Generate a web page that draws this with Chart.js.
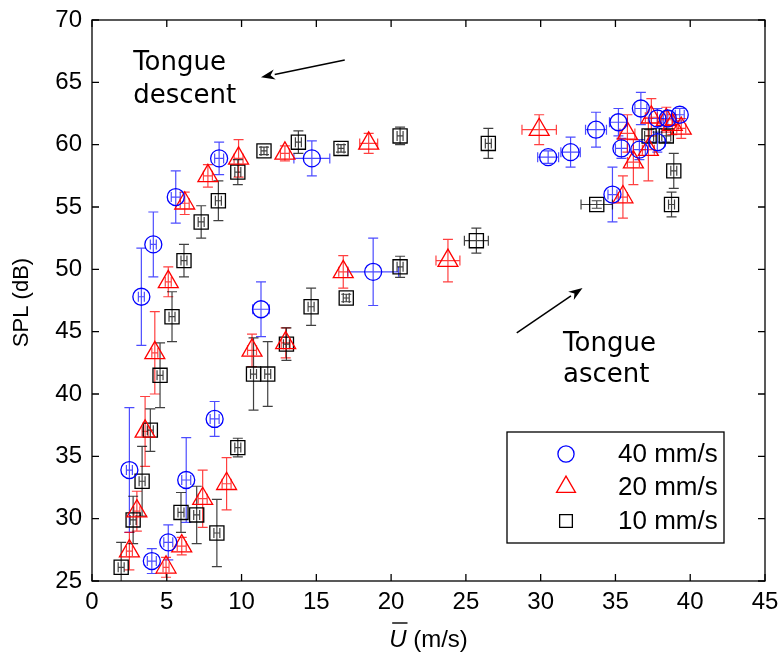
<!DOCTYPE html>
<html>
<head>
<meta charset="utf-8">
<script src="https://cdn.jsdelivr.net/npm/chart.js@4.4.0/dist/chart.umd.min.js"></script>
<style>
  html, body { margin: 0; padding: 0; background: #fff; }
  #wrap { width: 780px; height: 658px; }
</style>
</head>
<body>
<div id="wrap"><canvas id="chart" width="780" height="658"></canvas></div>
<script>
// --- data ---
// 40 mm/s (blue circles)
const u40      = [3.3, 4.1, 5.6, 8.5, 14.7, 30.5, 32.0, 33.7, 35.2, 36.7, 35.4, 36.6, 37.8, 37.8, 38.5, 39.3, 34.8, 11.3, 18.8, 8.2, 2.5, 6.3, 5.1, 4.0];
const spl40    = [47.8, 52.0, 55.8, 58.9, 58.9, 59.0, 59.4, 61.2, 61.8, 62.9, 59.7, 59.6, 60.2, 62.1, 62.1, 62.4, 56.0, 46.8, 49.8, 38.0, 33.9, 33.1, 28.1, 26.6];
const uErr40   = [0.2, 0.2, 0.3, 0.3, 1.2, 0.7, 0.65, 0.7, 0.6, 0.4, 0.4, 0.4, 0.5, 0.4, 0.4, 0.3, 0.3, 0.55, 1.7, 0.3, 0.2, 0.3, 0.3, 0.3];
const splErr40 = [3.9, 2.6, 2.1, 1.3, 1.4, 0.5, 1.2, 1.4, 1.1, 1.3, 0.8, 0.8, 0.8, 0.8, 0.6, 0.5, 2.2, 2.2, 2.7, 1.4, 5.0, 3.4, 1.4, 1.0];

// 20 mm/s (red triangles)
const u20      = [4.2, 5.1, 6.2, 7.75, 9.8, 12.9, 18.5, 29.9, 35.8, 36.2, 37.2, 37.4, 38.4, 38.8, 39.4, 35.5, 23.8, 16.8, 10.7, 12.95, 3.55, 3.0, 2.5, 4.95, 6.0, 7.4, 9.0];
const spl20    = [43.3, 49.0, 55.3, 57.5, 58.9, 59.3, 60.1, 61.2, 60.9, 58.6, 59.6, 62.2, 62.0, 61.6, 61.3, 55.8, 50.7, 49.8, 43.5, 44.1, 37.0, 30.6, 27.4, 26.1, 27.8, 31.6, 32.8];
const uErr20   = [0.2, 0.2, 0.3, 0.3, 0.3, 0.3, 0.6, 1.15, 0.5, 0.4, 0.4, 0.4, 0.4, 0.4, 0.3, 0.3, 0.8, 0.3, 0.3, 0.3, 0.2, 0.2, 0.2, 0.2, 0.3, 0.3, 0.3];
const splErr20 = [3.3, 1.2, 0.9, 0.9, 1.5, 0.6, 0.8, 1.2, 1.5, 1.8, 2.5, 1.5, 1.0, 0.8, 0.8, 1.7, 1.7, 1.3, 1.3, 1.2, 2.8, 1.6, 1.5, 0.8, 0.7, 2.3, 2.1];

// 10 mm/s (black squares)
const u10      = [1.95, 2.75, 3.35, 3.9, 4.55, 5.35, 6.15, 7.3, 8.45, 9.75, 11.5, 13.8, 16.65, 20.6, 26.5, 37.25, 38.4, 38.9, 38.75, 33.75, 25.7, 20.6, 17.0, 14.65, 13.0, 10.8, 11.75, 9.75, 8.35, 7.0, 5.95];
const spl10    = [26.1, 29.9, 33.0, 37.1, 41.5, 46.2, 50.7, 53.8, 55.5, 57.8, 59.5, 60.2, 59.7, 60.7, 60.1, 60.7, 60.7, 57.9, 55.2, 55.2, 52.3, 50.2, 47.7, 47.0, 44.0, 41.6, 41.6, 35.7, 28.85, 30.3, 30.5];
const uErr10   = [0.2, 0.2, 0.2, 0.2, 0.2, 0.2, 0.2, 0.2, 0.2, 0.2, 0.2, 0.2, 0.2, 0.2, 0.2, 0.3, 0.3, 0.2, 0.2, 1.05, 0.8, 0.2, 0.2, 0.2, 0.2, 0.2, 0.2, 0.2, 0.2, 0.2, 0.2];
const splErr10 = [2.0, 1.9, 2.8, 1.7, 2.6, 2.0, 1.3, 1.3, 1.6, 1.0, 0.3, 0.9, 0.3, 0.7, 1.2, 0.5, 0.5, 1.4, 1.0, 0.3, 1.0, 0.85, 0.3, 1.5, 1.3, 2.9, 2.6, 0.75, 2.7, 2.3, 1.6];

const seriesLabels = ['40 mm/s', '20 mm/s', '10 mm/s'];
const xTicks = [0, 5, 10, 15, 20, 25, 30, 35, 40, 45];
const yTicks = [25, 30, 35, 40, 45, 50, 55, 60, 65, 70];

// annotation anchors in data units
const descentText = { x: 2.75, y: [66.0, 63.35], lines: ['Tongue', 'descent'] };
const descentArrow = { from: [16.9, 66.8], to: [11.3, 65.4] };
const ascentText = { x: 31.5, y: [43.45, 41.0], lines: ['Tongue', 'ascent'] };
const ascentArrow = { from: [28.4, 44.9], to: [32.8, 48.5] };

function buildPoints(xs, ys, xe, ye) {
    return xs.map((x, i) => ({ x: x, y: ys[i], xe: xe[i], ye: ye[i] }));
}

const series = [
    { label: seriesLabels[0], data: buildPoints(u40, spl40, uErr40, splErr40), color: '#0000ff', errColor: 'rgba(0,0,255,0.7)', style: 'circle', radius: 8.5 },
    { label: seriesLabels[1], data: buildPoints(u20, spl20, uErr20, splErr20), color: '#ff0000', errColor: 'rgba(255,0,0,0.75)', style: 'triangle', radius: 11.5 },
    { label: seriesLabels[2], data: buildPoints(u10, spl10, uErr10, splErr10), color: '#000000', errColor: 'rgba(0,0,0,0.75)', style: 'rect', radius: 10 }
];

// error bars, drawn under the markers
const errorBarPlugin = {
    id: 'errorBars',
    beforeDatasetsDraw(chart) {
        const ctx = chart.ctx;
        const xs = chart.scales.x, ys = chart.scales.y;
        const area = chart.chartArea;
        const cap = 5;
        ctx.save();
        ctx.beginPath();
        ctx.rect(area.left, area.top, area.right - area.left, area.bottom - area.top);
        ctx.clip();
        ctx.lineWidth = 1.2;
        chart.data.datasets.forEach(ds => {
            ctx.strokeStyle = ds.errColor;
            ds.data.forEach(p => {
                const px = xs.getPixelForValue(p.x);
                const py = ys.getPixelForValue(p.y);
                const y0 = ys.getPixelForValue(p.y - p.ye);
                const y1 = ys.getPixelForValue(p.y + p.ye);
                const x0 = xs.getPixelForValue(p.x - p.xe);
                const x1 = xs.getPixelForValue(p.x + p.xe);
                ctx.beginPath();
                ctx.moveTo(px, y0); ctx.lineTo(px, y1);
                ctx.moveTo(px - cap, y0); ctx.lineTo(px + cap, y0);
                ctx.moveTo(px - cap, y1); ctx.lineTo(px + cap, y1);
                ctx.moveTo(x0, py); ctx.lineTo(x1, py);
                ctx.moveTo(x0, py - cap); ctx.lineTo(x0, py + cap);
                ctx.moveTo(x1, py - cap); ctx.lineTo(x1, py + cap);
                ctx.stroke();
            });
        });
        ctx.restore();
    }
};

function drawArrow(ctx, x0, y0, x1, y1) {
    const ang = Math.atan2(y1 - y0, x1 - x0);
    const len = 14, half = 5;
    const bx = x1 - len * Math.cos(ang), by = y1 - len * Math.sin(ang);
    ctx.beginPath();
    ctx.moveTo(x0, y0);
    ctx.lineTo(bx, by);
    ctx.stroke();
    ctx.beginPath();
    ctx.moveTo(x1, y1);
    ctx.lineTo(bx + half * Math.sin(ang), by - half * Math.cos(ang));
    ctx.lineTo(x1 - len * 0.7 * Math.cos(ang), y1 - len * 0.7 * Math.sin(ang));
    ctx.lineTo(bx - half * Math.sin(ang), by + half * Math.cos(ang));
    ctx.closePath();
    ctx.fill();
}

// frame, inward ticks, axis titles, annotations and legend box
const decorPlugin = {
    id: 'decor',
    afterDraw(chart) {
        const ctx = chart.ctx;
        const xs = chart.scales.x, ys = chart.scales.y;
        const a = chart.chartArea;
        const tl = 7;
        ctx.save();
        ctx.strokeStyle = '#000';
        ctx.fillStyle = '#000';
        ctx.lineWidth = 1.3;
        ctx.strokeRect(a.left, a.top, a.right - a.left, a.bottom - a.top);
        ctx.beginPath();
        xTicks.forEach(v => {
            const px = xs.getPixelForValue(v);
            ctx.moveTo(px, a.bottom); ctx.lineTo(px, a.bottom - tl);
            ctx.moveTo(px, a.top); ctx.lineTo(px, a.top + tl);
        });
        yTicks.forEach(v => {
            const py = ys.getPixelForValue(v);
            ctx.moveTo(a.left, py); ctx.lineTo(a.left + tl, py);
            ctx.moveTo(a.right, py); ctx.lineTo(a.right - tl, py);
        });
        ctx.stroke();

        // y axis title
        ctx.font = '22px "Liberation Sans", Arial, sans-serif';
        ctx.textAlign = 'center';
        ctx.textBaseline = 'middle';
        ctx.save();
        ctx.translate(22, (a.top + a.bottom) / 2 + 2);
        ctx.rotate(-Math.PI / 2);
        ctx.fillText('SPL (dB)', 0, 0);
        ctx.restore();

        // x axis title: U with overline, italic
        ctx.textBaseline = 'alphabetic';
        ctx.textAlign = 'left';
        const italic = 'italic 24px "Liberation Sans", Arial, sans-serif';
        const upright = '24px "Liberation Sans", Arial, sans-serif';
        ctx.font = italic;
        const wU = ctx.measureText('U').width;
        ctx.font = upright;
        const wRest = ctx.measureText(' (m/s)').width;
        const cx = (a.left + a.right) / 2;
        const startX = cx - (wU + wRest) / 2;
        const base = 647;
        ctx.font = italic;
        ctx.fillText('U', startX, base);
        ctx.font = upright;
        ctx.fillText(' (m/s)', startX + wU, base);
        ctx.lineWidth = 1.4;
        ctx.beginPath();
        ctx.moveTo(startX + 3, base - 24);
        ctx.lineTo(startX + wU + 1, base - 24);
        ctx.stroke();

        // annotations
        ctx.font = '26px "DejaVu Sans", sans-serif';
        [descentText, ascentText].forEach(t => {
            t.lines.forEach((s, i) => {
                ctx.fillText(s, xs.getPixelForValue(t.x), ys.getPixelForValue(t.y[i]));
            });
        });
        ctx.lineWidth = 1.5;
        [descentArrow, ascentArrow].forEach(ar => {
            drawArrow(ctx,
                xs.getPixelForValue(ar.from[0]), ys.getPixelForValue(ar.from[1]),
                xs.getPixelForValue(ar.to[0]), ys.getPixelForValue(ar.to[1]));
        });

        // legend
        const lw = 217, lh = 111;
        const lx = a.right - 41 - lw, ly = a.bottom - 38 - lh;
        ctx.fillStyle = '#fff';
        ctx.fillRect(lx, ly, lw, lh);
        ctx.strokeStyle = '#000';
        ctx.lineWidth = 1.3;
        ctx.strokeRect(lx, ly, lw, lh);
        const rows = [22, 55, 89];
        ctx.font = '26px "Liberation Sans", Arial, sans-serif';
        ctx.textBaseline = 'middle';
        chart.data.datasets.forEach((ds, i) => {
            const my = ly + rows[i];
            ctx.strokeStyle = ds.borderColor;
            ctx.fillStyle = 'rgba(0,0,0,0)';
            ctx.lineWidth = 1.3;
            const r = ds.pointStyle === 'rect' ? ds.pointRadius * 0.9 : ds.pointRadius * 0.95;
            Chart.helpers.drawPoint(ctx, { pointStyle: ds.pointStyle, radius: r, borderWidth: 1.3 }, lx + 59, my);
            ctx.fillStyle = '#000';
            ctx.fillText(ds.label, lx + 111, my + 1);
        });
        ctx.restore();
    }
};

function noScalePadding(scale) {
    scale.paddingLeft = 0;
    scale.paddingRight = 0;
    scale.paddingTop = 0;
    scale.paddingBottom = 0;
}

const chart = new Chart(document.getElementById('chart'), {
    type: 'scatter',
    data: {
        datasets: series.map(s => ({
            label: s.label,
            data: s.data,
            pointStyle: s.style,
            pointRadius: s.radius,
            pointHoverRadius: s.radius,
            borderColor: s.color,
            backgroundColor: 'rgba(0,0,0,0)',
            borderWidth: 1.3,
            errColor: s.errColor
        }))
    },
    options: {
        responsive: false,
        animation: false,
        devicePixelRatio: 1,
        layout: { padding: { top: 20, right: 15, left: 0, bottom: 0 } },
        plugins: {
            legend: { display: false },
            tooltip: { enabled: false }
        },
        scales: {
            x: {
                type: 'linear',
                min: 0,
                max: 45,
                afterBuildTicks: scale => { scale.ticks = xTicks.map(v => ({ value: v })); },
                ticks: { font: { family: '"Liberation Sans", Arial, sans-serif', size: 24 }, color: '#000', padding: 7, maxRotation: 0 },
                grid: { display: false, drawTicks: false },
                border: { display: false },
                afterFit: scale => { scale.height = 77; noScalePadding(scale); }
            },
            y: {
                type: 'linear',
                min: 25,
                max: 70,
                afterBuildTicks: scale => { scale.ticks = yTicks.map(v => ({ value: v })); },
                ticks: { font: { family: '"Liberation Sans", Arial, sans-serif', size: 24 }, color: '#000', padding: 10 },
                grid: { display: false, drawTicks: false },
                border: { display: false },
                afterFit: scale => { scale.width = 92; noScalePadding(scale); }
            }
        }
    },
    plugins: [errorBarPlugin, decorPlugin]
});
</script>
</body>
</html>
